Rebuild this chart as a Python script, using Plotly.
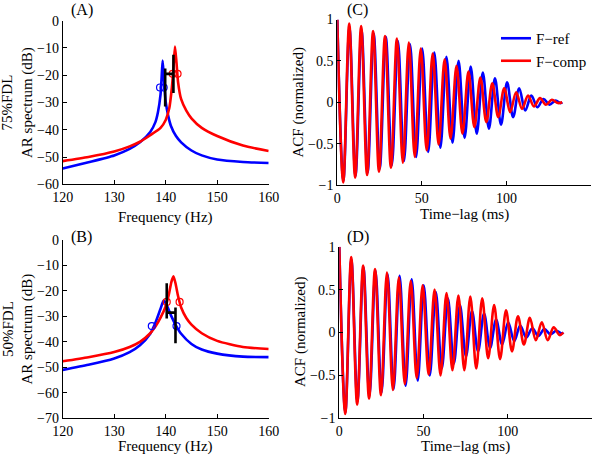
import plotly.graph_objects as go

# ---------------- data ----------------
# Panel A (75%FDL) AR spectra
freq_a_ref = [120, 125, 130, 133, 135, 137, 138, 138.5, 139, 139.2, 139.4, 139.6, 139.8, 140, 140.5, 141, 142, 143, 145, 147, 150, 155, 160]
db_a_ref = [-54.2, -51.9, -49.4, -47.0, -44.6, -40.8, -37.2, -33.5, -27.0, -21.0, -14.6, -19.5, -25.5, -29.8, -35.0, -38.5, -42.3, -44.6, -47.6, -49.4, -50.9, -51.8, -52.2]
freq_a_comp = [120, 125, 130, 133, 135, 137, 139, 140, 140.7, 141.2, 141.5, 141.8, 142.1, 142.4, 143, 144, 145, 147, 150, 155, 160]
db_a_comp = [-51.5, -50.0, -48.0, -46.1, -44.4, -42.0, -39.3, -36.4, -32.0, -24.5, -17.5, -9.5, -15.5, -22.5, -28.8, -33.0, -35.8, -39.3, -42.3, -45.8, -47.8]
circ_a_ref_f = [138.9, 139.6]
circ_a_ref_db = [-24.5, -24.5]
circ_a_comp_f = [141.35, 142.3]
circ_a_comp_db = [-19.5, -19.5]
bar_a_f = [139.9, 141.5]
bar_a_lo = [-31.5, -26.5]
bar_a_hi = [-17.5, -12.5]
bar_a_mid = -19.5

# Panel B (50%FDL) AR spectra
freq_b_ref = [120, 125, 130, 133, 135, 137, 138, 139, 139.6, 140.3, 141, 142, 143, 145, 147, 150, 155, 160]
db_b_ref = [-51.0, -49.0, -46.5, -44.0, -41.3, -36.8, -32.5, -27.0, -23.8, -26.0, -29.5, -33.6, -36.8, -40.8, -43.0, -44.6, -45.8, -46.0]
freq_b_comp = [120, 125, 130, 133, 135, 137, 138, 139, 140, 140.6, 141.1, 141.5, 141.9, 142.4, 143, 144, 145, 147, 150, 155, 160]
db_b_comp = [-47.6, -46.0, -44.0, -42.0, -40.0, -36.6, -34.0, -30.5, -26.0, -21.5, -16.5, -14.3, -17.0, -22.0, -26.5, -30.6, -33.2, -36.6, -39.6, -42.0, -42.8]
circ_b_ref_f = [137.3, 142.1]
circ_b_ref_db = [-33.8, -33.8]
circ_b_comp_f = [140.2, 142.7]
circ_b_comp_db = [-24.3, -24.3]
bar_b_f = [140.2, 141.9]
bar_b_lo = [-30.8, -40.5]
bar_b_hi = [-17.0, -26.5]
bar_b_mid = -28.5

# Panel C (75%FDL) ACF extrema (time in ms, normalized value)
t_c_ref = [0, 3.58, 7.17, 10.75, 14.34, 17.92, 21.51, 25.09, 28.68, 32.26, 35.85, 39.43, 43.02, 46.6, 50.19, 53.77,
           57.36, 60.94, 64.53, 68.11, 71.7, 75.28, 78.87, 82.45, 86.04, 89.62, 93.21, 96.79, 100.38, 103.96,
           107.55, 111.13, 114.72, 118.3, 121.89, 125.47, 129.06, 132.0, 133.0]
v_c_ref = [1.0, -0.95, 0.90, -0.89, 0.87, -0.85, 0.83, -0.80, 0.79, -0.76, 0.74, -0.71, 0.70, -0.66, 0.65, -0.60,
           0.60, -0.55, 0.55, -0.49, 0.50, -0.43, 0.43, -0.38, 0.36, -0.32, 0.29, -0.27, 0.24, -0.18,
           0.17, -0.10, 0.08, -0.06, 0.04, -0.03, 0.02, -0.01, 0.0]
t_c_comp = [0, 3.5, 7.05, 10.55, 14.1, 17.6, 21.15, 24.65, 28.2, 31.7, 35.25, 38.75, 42.3, 45.8, 49.35, 52.85,
            56.4, 59.9, 63.45, 66.95, 70.5, 74.0, 77.55, 81.05, 84.6, 88.1, 91.65, 95.15, 98.7, 102.2,
            105.75, 109.25, 112.8, 116.3, 119.85, 123.35, 126.9, 130.4, 133.0]
v_c_comp = [1.0, -0.97, 0.95, -0.91, 0.92, -0.88, 0.86, -0.84, 0.80, -0.79, 0.77, -0.73, 0.72, -0.66, 0.65, -0.58,
            0.59, -0.51, 0.52, -0.44, 0.44, -0.38, 0.37, -0.30, 0.30, -0.24, 0.23, -0.18, 0.17, -0.12,
            0.12, -0.08, 0.08, -0.05, 0.05, -0.03, 0.03, -0.01, 0.0]

# Panel D (50%FDL) ACF extrema
t_d_ref = [0, 3.58, 7.16, 10.74, 14.32, 17.9, 21.48, 25.06, 28.64, 32.22, 35.8, 39.38, 42.96, 46.54, 50.12, 53.7,
           57.28, 60.86, 64.44, 68.02, 71.6, 75.18, 78.76, 82.34, 85.92, 89.5, 93.08, 96.66, 100.24, 103.82,
           107.4, 110.98, 114.56, 118.14, 121.72, 125.3, 128.88, 132.0, 133.0]
v_d_ref = [1.0, -0.93, 0.85, -0.80, 0.76, -0.74, 0.72, -0.70, 0.68, -0.66, 0.66, -0.62, 0.62, -0.56, 0.55, -0.50,
           0.47, -0.42, 0.40, -0.36, 0.32, -0.28, 0.25, -0.22, 0.22, -0.18, 0.15, -0.14, 0.12, -0.10,
           0.08, -0.06, 0.05, -0.04, 0.04, -0.02, 0.02, -0.01, 0.0]
t_d_comp = [0, 3.53, 7.07, 10.6, 14.14, 17.67, 21.21, 24.74, 28.28, 31.81, 35.35, 38.88, 42.42, 45.95, 49.49, 53.02,
            56.56, 60.09, 63.63, 67.16, 70.7, 74.23, 77.77, 81.3, 84.84, 88.37, 91.91, 95.44, 98.98, 102.51,
            106.05, 109.58, 113.12, 116.65, 120.19, 123.72, 127.26, 130.79, 133.0]
v_d_comp = [1.0, -0.95, 0.88, -0.84, 0.78, -0.77, 0.74, -0.73, 0.70, -0.67, 0.64, -0.60, 0.60, -0.53, 0.55, -0.49,
            0.50, -0.50, 0.46, -0.44, 0.43, -0.44, 0.42, -0.42, 0.40, -0.30, 0.32, -0.31, 0.26, -0.22,
            0.19, -0.14, 0.17, -0.09, 0.12, -0.09, 0.06, -0.03, 0.0]

freq_ticks = [120, 130, 140, 150, 160]
db_ticks_a = [0, -10, -20, -30, -40, -50, -60]
db_ticks_b = [0, -10, -20, -30, -40, -50, -60, -70]
lag_ticks = [0, 50, 100, 150]
acf_ticks = [-1, -0.5, 0, 0.5, 1]
acf_tick_text = ["\u22121", "\u22120.5", "0", "0.5", "1"]

series_names = ["F\u2212ref", "F\u2212comp"]
BLUE = "rgb(0,0,255)"
RED = "rgb(255,0,0)"
FONT = "Liberation Serif, Times New Roman, serif"

# ---------------- figure ----------------
W, H = 600, 456
fig = go.Figure()

def px_x(p):
    return p / W

def px_y(p):
    return 1 - p / H

# panel pixel boxes: left, right, top, bottom
boxes = {
    "A": (62.7, 268.7, 20.7, 184.3),
    "B": (62.7, 268.7, 240.0, 418.3),
    "C": (337.3, 591.0, 19.5, 185.0),
    "D": (339.3, 592.0, 246.7, 418.3),
}
axis_ids = {"A": ("x", "y"), "B": ("x2", "y2"), "C": ("x3", "y3"), "D": ("x4", "y4")}

def add_line(panel, xs, ys, color, name=None, showlegend=False, shape="spline", smoothing=1.0):
    xa, ya = axis_ids[panel]
    fig.add_trace(go.Scatter(x=xs, y=ys, mode="lines", xaxis=xa, yaxis=ya,
                             line=dict(color=color, width=2.6, shape=shape, smoothing=smoothing),
                             name=name, showlegend=showlegend, hoverinfo="skip"))

def add_circles(panel, xs, ys, color):
    xa, ya = axis_ids[panel]
    fig.add_trace(go.Scatter(x=xs, y=ys, mode="markers", xaxis=xa, yaxis=ya, showlegend=False,
                             marker=dict(symbol="circle-open", size=7, color=color, line=dict(width=1.2, color=color)),
                             hoverinfo="skip"))

def add_hbar(panel, fs, lo, hi, mid):
    xa, ya = axis_ids[panel]
    for f, a, b in zip(fs, lo, hi):
        fig.add_trace(go.Scatter(x=[f, f], y=[a, b], mode="lines", xaxis=xa, yaxis=ya, showlegend=False,
                                 line=dict(color="black", width=2.6), hoverinfo="skip"))
    fig.add_trace(go.Scatter(x=[fs[0], fs[1]], y=[mid, mid], mode="lines", xaxis=xa, yaxis=ya, showlegend=False,
                             line=dict(color="black", width=2.6), hoverinfo="skip"))

# A
add_line("A", freq_a_ref, db_a_ref, BLUE, smoothing=0.6)
add_line("A", freq_a_comp, db_a_comp, RED, smoothing=0.6)
add_circles("A", circ_a_ref_f, circ_a_ref_db, BLUE)
add_circles("A", circ_a_comp_f, circ_a_comp_db, RED)
add_hbar("A", bar_a_f, bar_a_lo, bar_a_hi, bar_a_mid)
# B
add_line("B", freq_b_ref, db_b_ref, BLUE, smoothing=0.6)
add_line("B", freq_b_comp, db_b_comp, RED, smoothing=0.6)
add_circles("B", circ_b_ref_f, circ_b_ref_db, BLUE)
add_circles("B", circ_b_comp_f, circ_b_comp_db, RED)
add_hbar("B", bar_b_f, bar_b_lo, bar_b_hi, bar_b_mid)
# C
add_line("C", t_c_ref, v_c_ref, BLUE, name=series_names[0], showlegend=True)
add_line("C", t_c_comp, v_c_comp, RED, name=series_names[1], showlegend=True)
# D
add_line("D", t_d_ref, v_d_ref, BLUE)
add_line("D", t_d_comp, v_d_comp, RED)

axis_common = dict(showline=True, linecolor="black", linewidth=1, ticks="inside", ticklen=4,
                   tickcolor="black", tickwidth=1, showgrid=False, zeroline=False, mirror=False,
                   automargin=False,
                   tickfont=dict(family=FONT, size=14, color="black"))

layout_axes = {}
specs = {
    "A": (dict(range=[120, 160], tickvals=freq_ticks), dict(range=[-60, 0], tickvals=db_ticks_a)),
    "B": (dict(range=[120, 160], tickvals=freq_ticks), dict(range=[-70, 0], tickvals=db_ticks_b)),
    "C": (dict(range=[0, 150], tickvals=lag_ticks), dict(range=[-1, 1], tickvals=acf_ticks, ticktext=acf_tick_text)),
    "D": (dict(range=[0, 150], tickvals=lag_ticks), dict(range=[-1, 1], tickvals=acf_ticks, ticktext=acf_tick_text)),
}
for i, p in enumerate(["A", "B", "C", "D"]):
    l, r, t, b = boxes[p]
    xs, ys = specs[p]
    xkey = "xaxis" if i == 0 else f"xaxis{i+1}"
    ykey = "yaxis" if i == 0 else f"yaxis{i+1}"
    xa, ya = axis_ids[p]
    layout_axes[xkey] = dict(axis_common, domain=[px_x(l), px_x(r)], anchor=ya, **xs)
    layout_axes[ykey] = dict(axis_common, domain=[px_y(b), px_y(t)], anchor=xa, **ys)

fig.update_layout(**layout_axes)

annos = []
def text(x, y, s, size=15, angle=0, xanchor="center"):
    annos.append(dict(x=px_x(x), y=px_y(y), xref="paper", yref="paper", text=s, showarrow=False,
                      textangle=angle, xanchor=xanchor, yanchor="middle",
                      font=dict(family=FONT, size=size, color="black")))

text(165.7, 217, "Frequency (Hz)")
text(165.7, 446.5, "Frequency (Hz)")
text(464, 214, "Time\u2212lag (ms)")
text(466, 446.5, "Time\u2212lag (ms)")
text(17.5, 102.5, "75%FDL<br>AR spectrum (dB)", angle=-90)
text(17.5, 329, "50%FDL<br>AR spectrum (dB)", angle=-90)
text(298, 102.5, "ACF (normalized)", angle=-90)
text(300, 332, "ACF (normalized)", angle=-90)
text(81.5, 10, "(A)", size=16)
text(81.5, 237, "(B)", size=16)
text(357.5, 10, "(C)", size=16)
text(357.5, 237, "(D)", size=16)

fig.update_layout(
    width=W, height=H, margin=dict(l=0, r=0, t=0, b=0, autoexpand=False),
    paper_bgcolor="white", plot_bgcolor="white",
    annotations=annos,
    showlegend=True,
    legend=dict(x=px_x(496), y=px_y(22), xanchor="left", yanchor="top",
                bgcolor="rgba(0,0,0,0)", font=dict(family=FONT, size=15, color="black"),
                tracegroupgap=0, itemwidth=30),
    font=dict(family=FONT, color="black"),
)

fig.write_html("out.html",
               config={"displayModeBar": False},
               post_script="document.body.style.margin='0';document.body.style.overflow='hidden';")
